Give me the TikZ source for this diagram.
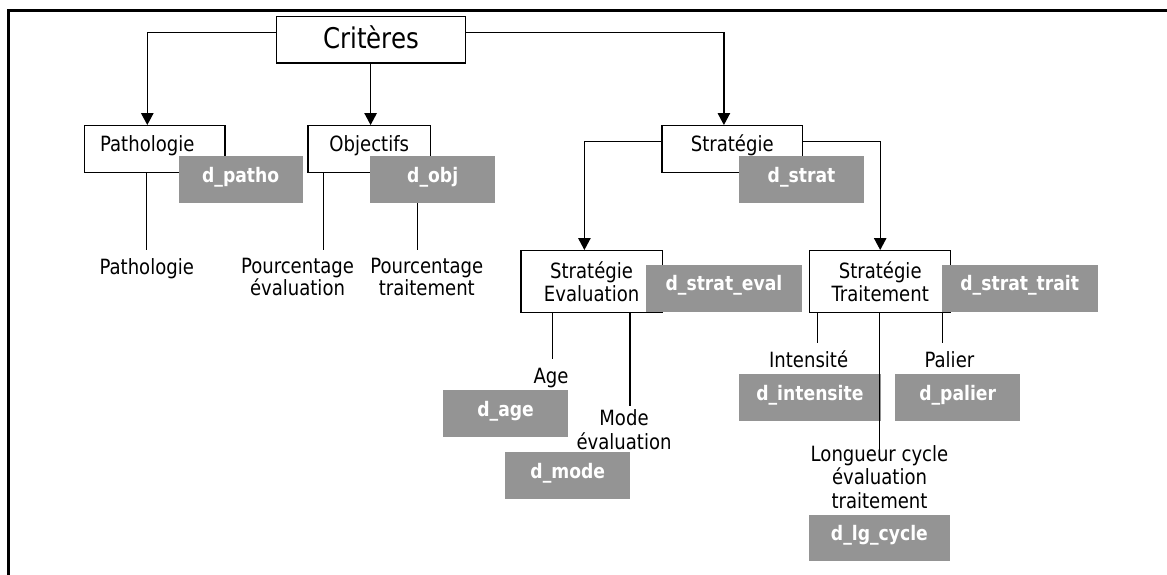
\documentclass[tikz,border=0pt]{standalone}
\usepackage{fontspec}
\setmainfont{DejaVu Sans}[FakeStretch=0.86]
\usetikzlibrary{arrows.meta}
\definecolor{boxgray}{RGB}{148,148,148}
\tikzset{
  wbox/.style={draw=black, line width=1.2pt, fill=white, inner sep=0pt,
    anchor=north west, font=\fontsize{21}{23.5}\selectfont},
  oneline/.style={text height=14pt, text depth=8.6pt},
  gbox/.style={fill=boxgray, text=white, inner sep=0pt, anchor=north west,
    minimum height=46.7pt, font=\bfseries\fontsize{20}{23}\selectfont,
    text height=13pt, text depth=8pt},
  lbl/.style={font=\fontsize{21}{23.5}\selectfont, align=center, inner sep=0pt},
  link/.style={line width=1.2pt},
  arrowlink/.style={link, -{Triangle[length=12pt,width=12.5pt]}},
}
\begin{document}
\begin{tikzpicture}[x=1pt, y=-1pt]
\useasboundingbox (0,0) rectangle (1167,574);

% outer frame (top and left sides)
\draw[line width=2.6pt, line join=miter] (1170,10.3) -- (8.7,10.3) -- (8.7,580);

% white boxes
\node[wbox, minimum width=189pt, minimum height=46.6pt, font=\fontsize{28.5}{30}\selectfont,
      text height=24pt, text depth=5.8pt] (crit) at (276,15.7) {Critères};
\node[wbox, oneline, minimum width=140.3pt, minimum height=46.7pt] (patho) at (84,125) {Pathologie\hspace*{15pt}};
\node[wbox, oneline, minimum width=122.7pt, minimum height=46.7pt] (obj) at (307.3,125) {Objectifs};
\node[wbox, oneline, minimum width=140.7pt, minimum height=46.7pt] (strat) at (661.3,125) {Stratégie};
\node[wbox, align=center, minimum width=141.2pt, minimum height=62pt] (seval) at (520.4,250) {Stratégie\\Evaluation};
\node[wbox, align=center, minimum width=140.8pt, minimum height=62pt] (strait) at (809.2,250) {Stratégie\\Traitement};

% grey data boxes
\node[gbox, minimum width=124.4pt] (dpatho) at (178.3,156) {d\_patho};
\node[gbox, minimum width=125pt] (dobj) at (370,156) {d\_obj};
\node[gbox, minimum width=124.7pt] (dstrat) at (739,156) {d\_strat};
\node[gbox, minimum width=156.5pt] (dseval) at (645.5,264.7) {d\_strat\_eval};
\node[gbox, minimum width=156.1pt] (dstrait) at (941.5,264.7) {d\_strat\_trait};
\node[gbox, minimum width=124.8pt] (dage) at (443,390) {d\_age};
\node[gbox, minimum width=124.8pt] (dmode) at (505.2,452) {d\_mode};
\node[gbox, minimum width=141.4pt] (dint) at (739,374) {d\_intensite};
\node[gbox, minimum width=124.9pt] (dpal) at (895,374) {d\_palier};
\node[gbox, minimum width=140.4pt] (dlg) at (809,514.3) {d\_lg\_cycle};

% leaf labels
\node[lbl, anchor=base] (tpatho) at (146.7,274) {Pathologie};
\node[lbl, font=\fontsize{21}{21.7}\selectfont] (tpeval) at (297.5,277) {Pourcentage\\évaluation};
\node[lbl, font=\fontsize{21}{21.7}\selectfont] (tptrait) at (426.8,277) {Pourcentage\\traitement};
\node[lbl, anchor=base] (tage) at (551,383.3) {Age};
\node[lbl] (tmode) at (624,429.5) {Mode\\évaluation};
\node[lbl, anchor=base] (tint) at (808.6,367.3) {Intensité};
\node[lbl, anchor=base] (tpal) at (949.4,367.3) {Palier};
\node[lbl] (tlg) at (879.5,477) {Longueur cycle\\évaluation\\traitement};

% free ends of the plain connectors
\coordinate (ePatho) at (146.7,250);
\coordinate (ePeval) at (323.3,250);
\coordinate (ePtrait) at (417.3,250);
\coordinate (eAge) at (552.5,359);
\coordinate (eMode) at (630,406);
\coordinate (eInt) at (817.3,343.3);
\coordinate (eLg) at (879.7,460);
\coordinate (ePal) at (942.2,343.3);

% arrows between boxes
\draw[arrowlink] ([yshift=7.3pt]crit.west) -| ([xshift=-7.45pt]patho.north);
\draw[arrowlink] ([xshift=-0.5pt]crit.south) -- ([xshift=-0.5pt]obj.north -| crit.south);
\draw[arrowlink] ([yshift=7.3pt]crit.east) -| ([xshift=-8.35pt]strat.north);
\draw[arrowlink] ([yshift=7.65pt]strat.west) -| ([xshift=-7.2pt]seval.north);
\draw[arrowlink] ([yshift=7.65pt]strat.east) -| (strait.north);

% plain connectors down to the leaves
\draw[link] (patho.south -| ePatho) -- (ePatho);
\draw[link] (obj.south -| ePeval) -- (ePeval);
\draw[link] (dobj.south -| ePtrait) -- (ePtrait);
\draw[link] (seval.south -| eAge) -- (eAge);
\draw[link] (seval.south -| eMode) -- (eMode);
\draw[link] (strait.south -| eInt) -- (eInt);
\draw[link] (strait.south -| eLg) -- (eLg);
\draw[link] (dstrait.south -| ePal) -- (ePal);
\end{tikzpicture}
\end{document}
